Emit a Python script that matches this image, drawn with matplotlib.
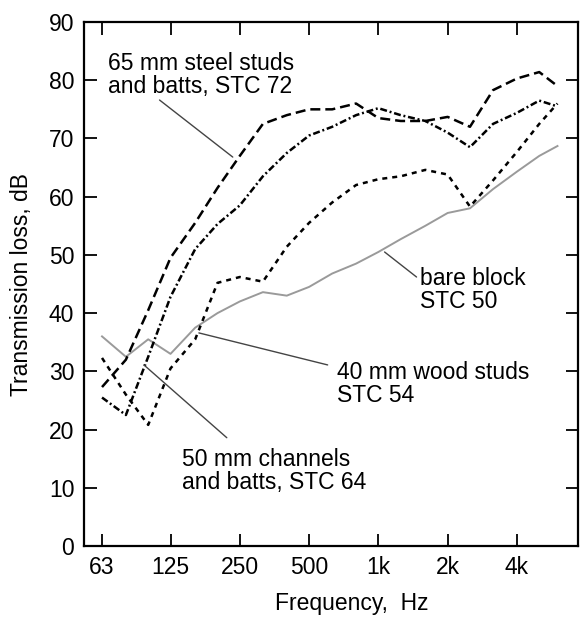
import matplotlib
matplotlib.use('Agg')
import matplotlib.pyplot as plt

plt.rcParams['font.family'] = ['Liberation Sans', 'DejaVu Sans']
plt.rcParams['lines.scale_dashes'] = False

# third-octave band centres, Hz
freq = [63, 80, 100, 125, 160, 200, 250, 315, 400, 500, 630, 800,
        1000, 1250, 1600, 2000, 2500, 3150, 4000, 5000, 6000]

# transmission loss, dB
bare_block = [36, 32.5, 35.5, 33, 37.5, 40, 42, 43.6, 43, 44.5, 46.8, 48.5,
              50.5, 52.7, 55, 57.2, 58, 61.3, 64.3, 67, 68.7]
steel_studs = [27.3, 32, 40.5, 49.5, 55.5, 61.5, 67, 72.5, 74, 75, 75, 76,
               73.5, 73, 73, 73.7, 72, 78.3, 80.3, 81.4, 79]
channels = [25.5, 22.5, 32.5, 42.8, 51, 55.3, 58.5, 63.5, 67.5, 70.5, 72, 74,
            75.2, 74, 73, 71, 68.5, 72.5, 74.4, 76.5, 75.5]
wood_studs = [32.3, 26, 20.8, 30.5, 35.5, 45.2, 46.2, 45.4, 51.4, 55.5, 59, 62,
              63, 63.5, 64.6, 63.8, 58.3, 62.8, 67.7, 72.5, 76]

xticks = [63, 125, 250, 500, 1000, 2000, 4000]
xtick_labels = ['63', '125', '250', '500', '1k', '2k', '4k']
yticks = list(range(0, 91, 10))

fig = plt.figure(figsize=(5.82, 6.18), dpi=100)
ax = fig.add_axes([0.1443, 0.1165, 0.8488, 0.8479])

ax.plot(freq, bare_block, color='#9a9a9a', lw=1.4)
ax.plot(freq, steel_studs, color='black', lw=1.8, dashes=(7.2, 3.6))
ax.plot(freq, channels, color='black', lw=1.8, dashes=(5, 2, 1.4, 2))
ax.plot(freq, wood_studs, color='black', lw=1.8, dashes=(3.6, 3.6))

ax.set_xscale('log')
ax.set_xlim(52.6, 7366)
ax.set_ylim(0, 90)
ax.set_xticks(xticks)
ax.set_xticklabels(xtick_labels)
ax.minorticks_off()
ax.set_yticks(yticks)

fs = 16.5
ax.tick_params(direction='in', length=9, width=1.3, labelsize=fs,
               top=True, right=True, pad=7)
for s in ax.spines.values():
    s.set_linewidth(1.6)

ax.set_ylabel('Transmission loss, dB', fontsize=fs, va='center')
ax.yaxis.set_label_coords(-0.126, 0.5)
ax.set_xlabel('Frequency,  Hz', fontsize=fs, va='center')
ax.xaxis.set_label_coords(0.543, -0.109)

lead = dict(arrowstyle='-', color='#444444', lw=1.0, shrinkA=0, shrinkB=0)

ax.text(66.9, 80.9, '65 mm steel studs\nand batts, STC 72', fontsize=fs,
        va='center', ha='left', linespacing=1.0)
ax.annotate('', xy=(233, 66.8), xytext=(112, 76.6), arrowprops=lead)

ax.text(1509, 44, 'bare block\nSTC 50', fontsize=fs,
        va='center', ha='left', linespacing=1.0)
ax.annotate('', xy=(1064, 50.5), xytext=(1465, 46.2), arrowprops=lead)

ax.text(658, 27.9, '40 mm wood studs\nSTC 54', fontsize=fs,
        va='center', ha='left', linespacing=1.0)
ax.annotate('', xy=(166, 36.6), xytext=(602, 31.1), arrowprops=lead)

ax.text(140, 12.9, '50 mm channels\nand batts, STC 64', fontsize=fs,
        va='center', ha='left', linespacing=1.0)
ax.annotate('', xy=(95.8, 31.1), xytext=(219.5, 18.6), arrowprops=lead)

fig.savefig('out.png', dpi=100)
